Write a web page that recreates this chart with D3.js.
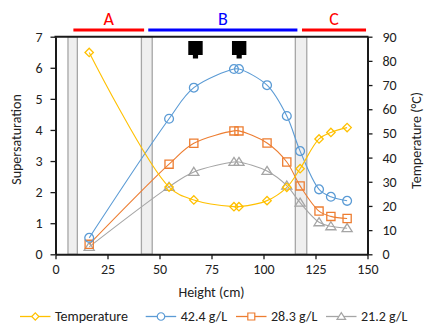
<!DOCTYPE html>
<html lang="en">
<head>
<meta charset="utf-8">
<title>Supersaturation and temperature vs height</title>
<script src="https://cdn.jsdelivr.net/npm/d3@7"></script>
<style>
  body { margin: 0; background: #fff; }
  svg { display: block; }
  text { font-family: Carlito, Calibri, Lato, sans-serif; fill: #222; }
  .tick text { font-size: 14px; }
  .axis path, .axis line { stroke: #1a1a1a; }
</style>
</head>
<body>
<script>
// x positions (cm) shared by all series
var heights = [16.2, 54.6, 66.5, 85.8, 88.2, 101.7, 111.2, 117.6, 126.7, 132.4, 140.2];

var temperature = [83.5, 27.8, 22.5, 19.7, 19.7, 22.2, 27.7, 35.4, 47.7, 50.4, 52.4];
var s424 = [0.53, 4.36, 5.36, 5.96, 5.96, 5.44, 4.45, 3.32, 2.09, 1.85, 1.72];
var s283 = [0.32, 2.90, 3.57, 3.97, 3.97, 3.58, 2.97, 2.20, 1.39, 1.22, 1.15];
var s212 = [0.24, 2.17, 2.65, 2.97, 2.97, 2.68, 2.21, 1.66, 1.03, 0.90, 0.84];

var xTicks = [0, 25, 50, 75, 100, 125, 150];
var yTicks = [0, 1, 2, 3, 4, 5, 6, 7];
var tTicks = [0, 10, 20, 30, 40, 50, 60, 70, 80, 90];

// shaded gaps (cm)
var gaps = [[6, 10.5], [41.3, 46.5], [115.3, 120.8]];
// zone bars across the top
var zoneNames = ["A", "B", "C"];
var zoneFrom = [8.6, 44.6, 118.5];
var zoneTo = [42.6, 116.3, 149.3];
var zoneColors = ["#ff0000", "#0000ff", "#ff0000"];
// black nozzle markers (cm)
var nozzles = [67.3, 88.3];

var w = 425, h = 324;
var pLeft = 55.5, pRight = 367.5, pTop = 36.7, pBottom = 254.3;

var svg = d3.select("body").append("svg").attr("width", w).attr("height", h);

var x = d3.scaleLinear().domain([0, 150]).range([pLeft, pRight]);
var y = d3.scaleLinear().domain([0, 7]).range([pBottom, pTop]);
var yT = d3.scaleLinear().domain([0, 90]).range([pBottom, pTop]);

// gray gap bands
svg.selectAll("rect.gap")
  .data(gaps)
  .enter()
  .append("rect")
  .attr("class", "gap")
  .attr("x", function(d) { return x(d[0]); })
  .attr("y", y(7))
  .attr("width", function(d) { return x(d[1]) - x(d[0]); })
  .attr("height", y(0) - y(7))
  .attr("fill", "#efefef")
  .attr("stroke", "#a6a6a6")
  .attr("stroke-width", 1.3);

// axes
svg.append("g").attr("class", "axis")
  .attr("transform", "translate(0," + pBottom + ")")
  .call(d3.axisBottom(x).tickValues(xTicks).tickFormat(d3.format("d")).tickSize(5).tickPadding(5).tickSizeOuter(0));
svg.append("g").attr("class", "axis")
  .attr("transform", "translate(" + pLeft + ",0)")
  .call(d3.axisLeft(y).tickValues(yTicks).tickFormat(d3.format("d")).tickSize(5).tickPadding(8).tickSizeOuter(0));
svg.append("g").attr("class", "axis")
  .attr("transform", "translate(" + pRight + ",0)")
  .call(d3.axisRight(yT).tickValues(tTicks).tickFormat(d3.format("d")).tickSize(5).tickPadding(10).tickSizeOuter(0));
svg.selectAll(".axis path").attr("stroke-width", 2);
svg.selectAll(".axis line").attr("stroke-width", 1.3);

// top frame line
svg.append("line")
  .attr("x1", pLeft - 1).attr("x2", pRight + 1)
  .attr("y1", pTop).attr("y2", pTop)
  .attr("stroke", "#1a1a1a").attr("stroke-width", 2);

// axis titles
svg.append("text")
  .attr("transform", "translate(21," + ((pTop + pBottom) / 2 - 6) + ") rotate(-90)")
  .attr("text-anchor", "middle")
  .style("font-size", "14px")
  .text("Supersaturation");
svg.append("text")
  .attr("transform", "translate(421," + ((pTop + pBottom) / 2 - 5) + ") rotate(-90)")
  .attr("text-anchor", "middle")
  .style("font-size", "14px")
  .text("Temperature (°C)");
svg.append("text")
  .attr("x", (pLeft + pRight) / 2).attr("y", 297)
  .attr("text-anchor", "middle")
  .style("font-size", "14px")
  .text("Height (cm)");

// zone bars
svg.selectAll("line.zone")
  .data(zoneNames)
  .enter()
  .append("line")
  .attr("x1", function(d, i) { return x(zoneFrom[i]); })
  .attr("x2", function(d, i) { return x(zoneTo[i]); })
  .attr("y1", 30).attr("y2", 30)
  .attr("stroke", function(d, i) { return zoneColors[i]; })
  .attr("stroke-width", 3);
svg.selectAll("text.zone")
  .data(zoneNames)
  .enter()
  .append("text")
  .attr("x", function(d, i) { return x((zoneFrom[i] + zoneTo[i]) / 2); })
  .attr("y", 25)
  .attr("text-anchor", "middle")
  .style("font-size", "18px")
  .style("fill", function(d, i) { return zoneColors[i]; })
  .text(function(d) { return d; });

// nozzle markers
svg.selectAll("path.nozzle")
  .data(nozzles)
  .enter()
  .append("path")
  .attr("d", function(d) {
    var cx = x(d);
    return "M" + (cx - 7.2) + ",41 h14.4 v14 h-4.6 v3.5 h-5.2 v-3.5 h-4.6 Z";
  })
  .attr("fill", "#000");

// series
var series = [
  { name: "Temperature", vals: temperature, scale: yT, color: "#ffc000", shape: "diamond" },
  { name: "42.4 g/L", vals: s424, scale: y, color: "#5b9bd5", shape: "circle" },
  { name: "28.3 g/L", vals: s283, scale: y, color: "#ed7d31", shape: "square" },
  { name: "21.2 g/L", vals: s212, scale: y, color: "#a5a5a5", shape: "triangle" }
];

function markerPath(shape, s) {
  if (shape === "diamond") return "M0," + (-s) + "L" + s + ",0L0," + s + "L" + (-s) + ",0Z";
  if (shape === "square") return "M" + (-s) + "," + (-s) + "h" + (2 * s) + "v" + (2 * s) + "h" + (-2 * s) + "Z";
  if (shape === "triangle") return "M0," + (-s) + "L" + (s * 1.1) + "," + (s * 0.75) + "L" + (-s * 1.1) + "," + (s * 0.75) + "Z";
  return d3.arc()({ innerRadius: 0, outerRadius: s, startAngle: 0, endAngle: 2 * Math.PI });
}
var markerSize = { diamond: 4.2, circle: 4.4, square: 4.1, triangle: 4.6 };

var drawOrder = [3, 2, 1, 0];
drawOrder.forEach(function(k) {
  var s = series[k];
  var line = d3.line()
    .x(function(d, i) { return x(heights[i]); })
    .y(function(d) { return s.scale(d); })
    .curve(d3.curveCatmullRom.alpha(0.5));
  svg.append("path")
    .datum(s.vals)
    .attr("d", line)
    .attr("fill", "none")
    .attr("stroke", s.color)
    .attr("stroke-width", 1.1);
  svg.selectAll("path.m" + k)
    .data(s.vals)
    .enter()
    .append("path")
    .attr("class", "m" + k)
    .attr("transform", function(d, i) { return "translate(" + x(heights[i]) + "," + s.scale(d) + ")"; })
    .attr("d", markerPath(s.shape, markerSize[s.shape]))
    .attr("fill", "none")
    .attr("stroke", s.color)
    .attr("stroke-width", 1.3);
});

// legend
var legX = [20, 145.7, 236, 326];
var legY = 316.5;
var leg = svg.selectAll("g.leg")
  .data(series)
  .enter()
  .append("g")
  .attr("class", "leg")
  .attr("transform", function(d, i) { return "translate(" + legX[i] + "," + legY + ")"; });
leg.append("line")
  .attr("x1", 0).attr("x2", 30.5)
  .attr("stroke", function(d) { return d.color; })
  .attr("stroke-width", 1.3);
leg.append("path")
  .attr("transform", "translate(15.3,0)")
  .attr("d", function(d) { return markerPath(d.shape, markerSize[d.shape] * 0.85); })
  .attr("fill", "#fff")
  .attr("stroke", function(d) { return d.color; })
  .attr("stroke-width", 1.2);
leg.append("text")
  .attr("x", 35)
  .attr("y", 4.5)
  .style("font-size", "14px")
  .text(function(d) { return d.name; });
</script>
</body>
</html>
